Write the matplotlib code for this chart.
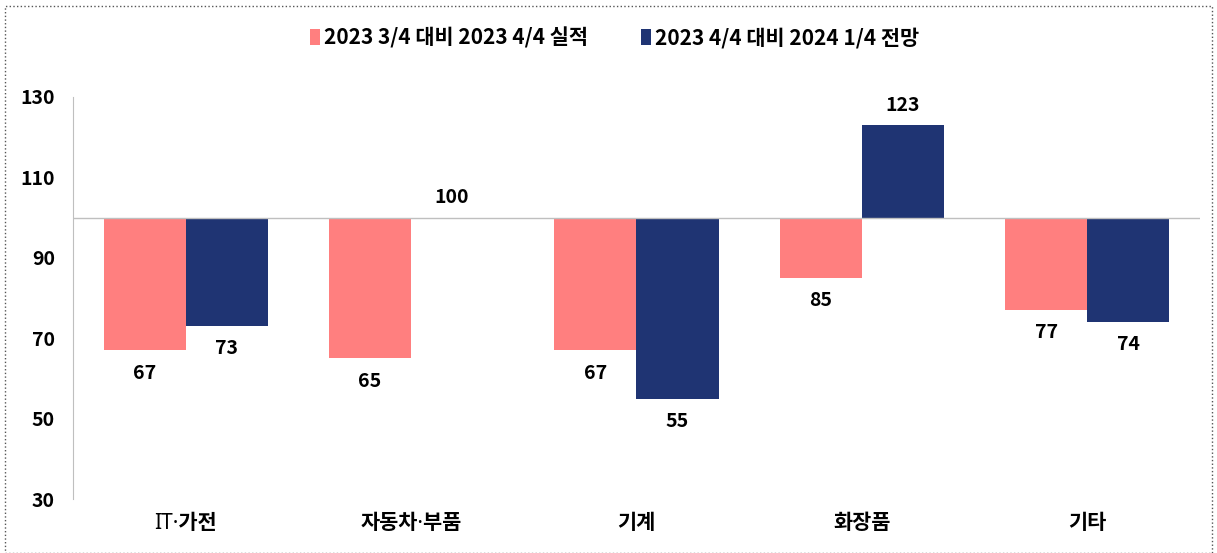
import matplotlib
matplotlib.use('Agg')
import matplotlib.pyplot as plt
from matplotlib.patches import Rectangle
import numpy as np

plt.rcParams['font.family'] = ['Noto Sans CJK KR', 'DejaVu Sans']
plt.rcParams['font.weight'] = 'bold'

categories = ['IT·가전', '자동차·부품', '기계', '화장품', '기타']
series_names = ['2023 3/4 대비 2023 4/4 실적', '2023 4/4 대비 2024 1/4 전망']
actual_2023q4 = [67, 65, 67, 85, 77]
outlook_2024q1 = [73, 100, 55, 123, 74]
colors = ['#FF7F7F', '#1F3473']
baseline = 100

fig = plt.figure(figsize=(12.17, 5.53), dpi=100)
ax = fig.add_axes([0.06, 0.0976, 0.926, 0.727])

x = np.arange(len(categories))
w = 0.364
for i, (vals, col) in enumerate(zip([actual_2023q4, outlook_2024q1], colors)):
    pos = x + (i - 0.5) * w
    heights = [v - baseline for v in vals]
    ax.bar(pos, heights, w, bottom=baseline, color=col, label=series_names[i])
    for p, v in zip(pos, vals):
        if v < baseline:
            ax.text(p, v - 3.3, str(v), ha='center', va='top', fontsize=14)
        else:
            ax.text(p, v + 2.6, str(v), ha='center', va='bottom', fontsize=14)

ax.axhline(baseline, color='#BFBFBF', lw=1)
ax.set_ylim(30, 130)
ax.set_xlim(-0.5, len(categories) - 0.5)
ax.set_yticks(range(30, 131, 20))
ax.set_xticks(x)
# Noto Sans first so the middle dot stays narrow
ax.set_xticklabels(categories, fontsize=15, family=['Noto Sans', 'Noto Sans CJK KR'])
ax.tick_params(axis='y', length=0, labelsize=14, pad=13)
ax.tick_params(axis='x', length=0, pad=10)
for s in ['top', 'right', 'bottom']:
    ax.spines[s].set_visible(False)
ax.spines['left'].set_color('#BFBFBF')

fig.legend(loc='upper center', bbox_to_anchor=(0.505, 0.985), ncol=2, frameon=False,
           prop={'size': 15, 'weight': 'bold'}, handlelength=0.5, handleheight=0.8,
           handletextpad=0.2, columnspacing=2.5)

fig.patches.append(Rectangle((0.004, 0.0), 0.992, 0.99, transform=fig.transFigure,
                             fill=False, ls=':', lw=1, ec='#555555'))

fig.savefig('out.png', dpi=100)
